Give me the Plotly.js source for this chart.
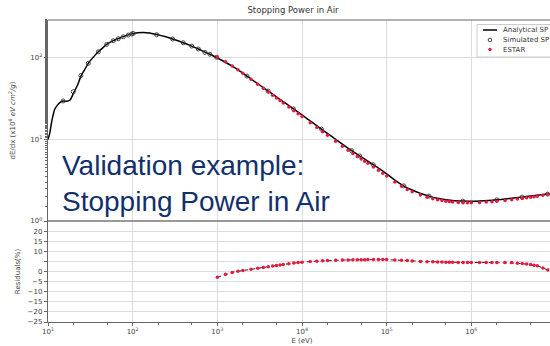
<!DOCTYPE html>
<html>
<head>
<meta charset="utf-8">
<script src="https://cdn.plot.ly/plotly-3.0.1.min.js"></script>
<style>
html,body{margin:0;padding:0;overflow:hidden;background:#fff;width:550px;height:346px;}
#chart{width:600px;height:346px;}
</style>
</head>
<body>
<div id="chart"></div>
<script>
// Analytical stopping power curve (E in eV, S in MeV cm^2/g)
const anaE = [10,10.5,11.0,11.5,12.0,12.6,13.8,15.1,16.6,18.2,20.0,22.4,24.5,26.9,29.9,33.9,39.3,44.7,49.3,59.0,67.6,77.4,88.7,101.6,115,133,158,192,240,296,395,498,596,714,818,
  1000,1259,1585,1995,2512,3162,3981,5012,6310,7943,
  1.0e4,1.259e4,1.585e4,1.995e4,2.512e4,3.162e4,3.981e4,5.012e4,6.310e4,7.943e4,
  1.0e5,1.259e5,1.585e5,1.995e5,2.512e5,3.162e5,3.981e5,5.012e5,6.310e5,7.943e5,
  1.0e6,1.259e6,1.585e6,1.995e6,2.512e6,3.162e6,3.981e6,5.012e6,6.310e6,7.943e6,1.0e7];
const anaS = [10,12,16,20,23.5,25.5,28.3,29.6,29.4,30.5,37,47,60,71,86,101,119,134,147,163,173,183,192,199,204,206,203,194,183,171,154,140,129,118,111,
  100,88.1,76.7,65.3,55.2,46.6,39.3,33.1,28.1,23.7,
  20.0,16.8,14.1,11.9,10.0,8.41,7.13,6.10,5.22,4.47,
  3.78,3.16,2.70,2.40,2.18,2.02,1.905,1.828,1.778,1.754,
  1.750,1.762,1.786,1.820,1.862,1.910,1.963,2.023,2.080,2.138,2.188];

// Simulated stopping power
const simE = [15.1,19.9,24.5,29.9,39.3,49.3,59.0,67.6,77.4,88.7,97.3,101.6,192,296,395,498,596,714,818,982,
  2239,3981,7943,17000,38460,47860,69180,158500,316200,794300,1995000,3981000,7943000];
const simS = [29.7,38.6,61,86,119,147,163,172,182,191,197,200,193,171,154,140,129,117,111,102,
  60.0,39.3,23.7,13.4,7.31,6.29,4.91,2.70,2.02,1.754,1.82,1.963,2.138];

// ESTAR reference data
const estE = [1000,1250,1500,1750,2000,2500,3000,3500,4000,4500,5000,5500,6000,7000,8000,9000,
  1e4,1.25e4,1.5e4,1.75e4,2e4,2.5e4,3e4,3.5e4,4e4,4.5e4,5e4,5.5e4,6e4,7e4,8e4,9e4,
  1e5,1.25e5,1.5e5,1.75e5,2e5,2.5e5,3e5,3.5e5,4e5,4.5e5,5e5,5.5e5,6e5,7e5,8e5,9e5,
  1e6,1.25e6,1.5e6,1.75e6,2e6,2.5e6,3e6,3.5e6,4e6,4.5e6,5e6,5.5e6,6e6,7e6,8e6,9e6,1e7];
const estS = [103.0,89.7,79.7,71.5,64.9,54.8,47.7,42.4,38.2,34.9,32.2,30.0,28.1,25.0,22.6,20.7,
  19.08,16.09,14.01,12.46,11.26,9.50,8.28,7.40,6.72,6.20,5.77,5.41,5.10,4.60,4.20,3.86,
  3.57,3.01,2.66,2.44,2.28,2.08,1.958,1.877,1.820,1.782,1.748,1.729,1.711,1.691,1.679,1.678,
  1.676,1.688,1.706,1.725,1.744,1.783,1.819,1.858,1.890,1.924,1.954,1.983,2.011,2.069,2.122,2.168,2.210];

// Residuals (%) at ESTAR energies
const resV = [-2.9,-1.35,-0.46,0.10,0.5,1.09,1.56,1.96,2.31,2.67,2.99,3.24,3.47,3.87,4.2,4.42,
  4.6,4.89,5.13,5.29,5.40,5.6,5.68,5.72,5.8,5.83,5.85,5.87,5.89,5.9,5.9,5.9,
  5.9,5.71,5.55,5.39,5.25,5.0,4.88,4.83,4.7,4.65,4.6,4.58,4.54,4.5,4.47,4.43,
  4.4,4.4,4.4,4.4,4.4,4.4,4.4,4.04,3.9,3.69,3.5,3.14,2.8,1.79,0.75,-0.17,-1.0];

// Tick labels
const xTickVals = [10,100,1000,1e4,1e5,1e6,1e7];
const xTickText = ['10<sup>1</sup>','10<sup>2</sup>','10<sup>3</sup>','10<sup>4</sup>','10<sup>5</sup>','10<sup>6</sup>','10<sup>7</sup>'];
const yTickVals = [1,10,100];
const yTickText = ['10<sup>0</sup>','10<sup>1</sup>','10<sup>2</sup>'];
const resTickVals = [-25,-20,-15,-10,-5,0,5,10,15,20,25];
const resTickText = ['\u221225','\u221220','\u221215','\u221210','\u22125','0','','10','15','20',''];
const legendNames = ['Analytical SP','Simulated SP','ESTAR'];

const FONT = 'DejaVu Sans, sans-serif';
const LINE = '#666';
const GRID = '#dcdcdc';
const RED = '#e8173f';

const traces = [
  {x: anaE, y: anaS, xaxis:'x', yaxis:'y', mode:'lines', name:legendNames[0],
   line:{color:'#000', width:1.5, shape:'spline', smoothing:0.8}},
  {x: simE, y: simS, xaxis:'x', yaxis:'y', mode:'markers', name:legendNames[1],
   marker:{symbol:'circle-open', size:4, color:'#333', line:{width:0.9, color:'#333'}}},
  {x: estE, y: estS, xaxis:'x', yaxis:'y', mode:'markers', name:legendNames[2],
   marker:{symbol:'circle', size:3.5, color:RED}},
  {x: estE, y: resV, xaxis:'x', yaxis:'y2', mode:'lines',
   line:{color:'#222', width:1, dash:'4px,3px'}},
  {x: estE, y: resV, xaxis:'x', yaxis:'y2', mode:'markers',
   marker:{symbol:'circle', size:3.5, color:RED}}
];

// plot area in pixels: x 48..556, y 20..322
const PL = 48, PR = 556, PT = 20, PB = 322;
const px = v => (v - PL) / (PR - PL);
const py = v => 1 - (v - PT) / (PB - PT);
const split = 101/302;

// hand-built compact legend (Plotly's legend rows have a minimum height)
const legY = [30, 40, 49.5];
const legShapes = [
  {type:'rect', xref:'paper', yref:'paper', x0:px(477), x1:px(575), y0:py(24.5), y1:py(57), layer:'above',
   fillcolor:'#fff', line:{color:'#ccc', width:1}},
  {type:'line', xref:'paper', yref:'paper', x0:px(483), x1:px(497), y0:py(legY[0]), y1:py(legY[0]), layer:'above',
   line:{color:'#000', width:1.5}},
  {type:'circle', xref:'paper', yref:'paper', x0:px(488.2), x1:px(491.8), y0:py(legY[1]-1.8), y1:py(legY[1]+1.8), layer:'above',
   line:{color:'#333', width:0.9}},
  {type:'circle', xref:'paper', yref:'paper', x0:px(488.3), x1:px(491.7), y0:py(legY[2]-1.7), y1:py(legY[2]+1.7), layer:'above',
   fillcolor:RED, line:{color:RED, width:0}}
];
const legAnn = legendNames.map((t, i) => ({
  text:t, xref:'paper', yref:'paper', x:px(501), y:py(legY[i]), xanchor:'left', yanchor:'middle',
  showarrow:false, font:{family:FONT, size:7, color:'#333'}
}));

const layout = {
  width: 600, height: 346,
  margin: {l:48, r:44, t:20, b:24},
  paper_bgcolor:'#fff', plot_bgcolor:'#fff',
  font: {family: FONT, size: 7, color:'#444'},
  showlegend: false,
  title: {text:'Stopping Power in Air', font:{family:FONT, size:8.5, color:'#333'},
          x: 293/600, xref:'container', xanchor:'center', y: 1-10/346, yref:'container', yanchor:'middle'},
  xaxis: {type:'log', range:[1,7], anchor:'y2', domain:[0,1],
          showgrid:true, gridcolor:GRID, gridwidth:1,
          showline:true, linecolor:LINE, linewidth:1,
          ticks:'outside', ticklen:3, tickcolor:LINE,
          tickvals:xTickVals, ticktext:xTickText, tickfont:{family:FONT, size:7, color:'#444'},
          minor:{ticks:'outside', ticklen:1.5, tickcolor:LINE, showgrid:false},
          title:{text:'E (eV)', font:{family:FONT, size:7, color:'#444'}, standoff:2},
          automargin:false, zeroline:false},
  yaxis: {type:'log', range:[0, 2.466], domain:[split, 1], anchor:'x',
          showgrid:true, gridcolor:GRID, gridwidth:1,
          showline:true, linecolor:LINE, linewidth:1.2,
          ticks:'outside', ticklen:3, tickcolor:LINE,
          tickvals:yTickVals, ticktext:yTickText, tickfont:{family:FONT, size:7, color:'#444'},
          minor:{ticks:'outside', ticklen:1.5, tickcolor:LINE, showgrid:false},
          title:{text:'dE/dx (x10<sup>6</sup> <i>eV cm<sup>2</sup>/g</i>)', font:{family:FONT, size:7, color:'#444'}, standoff:14},
          automargin:false, zeroline:false},
  yaxis2: {range:[-25, 25], domain:[0, split], anchor:'x',
          tickvals: resTickVals, ticktext: resTickText,
          showgrid:true, gridcolor:GRID, gridwidth:1,
          showline:true, linecolor:LINE, linewidth:1.2,
          ticks:'outside', ticklen:3, tickcolor:LINE,
          tickfont:{family:FONT, size:7, color:'#444'},
          title:{text:'Residuals(%)', font:{family:FONT, size:7, color:'#444'}, standoff:6},
          automargin:false, zeroline:false},
  shapes: [
    {type:'line', xref:'paper', yref:'paper', x0:0, x1:1, y0:1, y1:1, line:{color:LINE, width:1}},
    {type:'line', xref:'paper', yref:'paper', x0:0, x1:1, y0:split, y1:split, line:{color:'#777', width:1.5}}
  ].concat(legShapes),
  annotations: [
    {text:'Validation example:<br>Stopping Power in Air', xref:'paper', yref:'paper',
     x: px(60), y: py(148), xanchor:'left', yanchor:'top', align:'left', showarrow:false,
     font:{family:'Liberation Sans, Arial, sans-serif', size:28, color:'#12306c'}}
  ].concat(legAnn)
};

Plotly.newPlot('chart', traces, layout, {staticPlot:true, displayModeBar:false});
</script>
</body>
</html>
